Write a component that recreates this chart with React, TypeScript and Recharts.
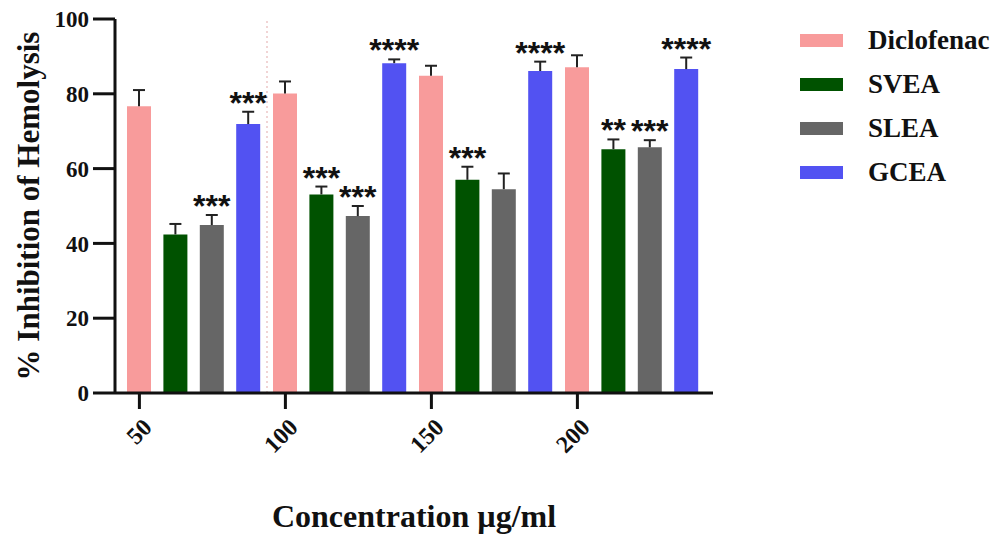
import React from "react";
import { BarChart, Bar, XAxis, YAxis, Legend, LabelList, ReferenceLine } from "recharts";

// concentrations (µg/ml)
const concentrations = ["50", "100", "150", "200"];

// % inhibition of hemolysis, mean and SD per group
const diclofenac = [76.7, 80.1, 84.8, 87.1];
const diclofenacErr = [4.3, 3.2, 2.7, 3.2];
const svea = [42.4, 53.1, 57.0, 65.2];
const sveaErr = [2.8, 2.1, 3.5, 2.6];
const slea = [44.9, 47.3, 54.5, 65.7];
const sleaErr = [2.7, 2.7, 4.2, 1.9];
const gcea = [71.9, 88.2, 86.1, 86.6];
const gceaErr = [3.3, 1.0, 2.5, 3.1];

// significance marks
const diclofenacSig = ["", "", "", ""];
const sveaSig = ["", "***", "***", "**"];
const sleaSig = ["***", "***", "", "***"];
const gceaSig = ["***", "****", "****", "****"];

const series = [
  { key: "Diclofenac", color: "#F89B9B", values: diclofenac, err: diclofenacErr, sig: diclofenacSig },
  { key: "SVEA", color: "#005200", values: svea, err: sveaErr, sig: sveaSig },
  { key: "SLEA", color: "#666666", values: slea, err: sleaErr, sig: sleaSig },
  { key: "GCEA", color: "#5252F2", values: gcea, err: gceaErr, sig: gceaSig },
];

const data = concentrations.map((c, i) => {
  const row: Record<string, any> = { conc: c };
  series.forEach((s) => {
    row[s.key] = s.values[i];
    row[s.key + "_err"] = s.err[i];
    row[s.key + "_sig"] = s.sig[i];
  });
  return row;
});

const serif = "'Liberation Serif', 'Times New Roman', serif";
const BAR = 24;
const GAP = 12.4;

// draws the upper SD whisker and the stars above each bar
const errorAndStars = (key: string) => (props: any) => {
  const vb = props.viewBox || props;
  const x = props.x ?? vb.x;
  const y = props.y ?? vb.y;
  const width = props.width ?? vb.width;
  const height = props.height ?? vb.height;
  const row = data[props.index];
  if (!row) return null;
  const v = row[key];
  const pxPerUnit = height / v;
  const top = y - row[key + "_err"] * pxPerUnit;
  const cx = x + width / 2;
  const sig = row[key + "_sig"];
  return (
    <g>
      <line x1={cx} x2={cx} y1={y} y2={top} stroke="#222" strokeWidth={2} />
      <line x1={cx - 6} x2={cx + 6} y1={top} y2={top} stroke="#222" strokeWidth={2} />
      {sig ? (
        <text x={cx} y={top + 2} textAnchor="middle" fontSize={32} fontWeight="bold"
          fontFamily="'Liberation Sans', Arial, sans-serif" fill="#111">
          {sig}
        </text>
      ) : null}
    </g>
  );
};

const LegendBox = () => (
  <div style={{ fontFamily: serif, fontWeight: "bold", fontSize: 27, color: "#111" }}>
    {series.map((s) => (
      <div key={s.key} style={{ display: "flex", alignItems: "center", height: 44 }}>
        <div style={{ width: 43, height: 13, background: s.color, marginRight: 25 }} />
        <span>{s.key}</span>
      </div>
    ))}
  </div>
);

const YTitle = (props: any) => {
  const vb = props.viewBox;
  const cx = 28;
  const cy = vb.y + vb.height / 2;
  return (
    <text x={cx} y={cy} transform={`rotate(-90 ${cx} ${cy})`} textAnchor="middle"
      dominantBaseline="central" fontFamily={serif} fontWeight="bold" fontSize={31} fill="#111">
      % Inhibition of Hemolysis
    </text>
  );
};

const XTitle = (props: any) => {
  const vb = props.viewBox;
  return (
    <text x={vb.x + vb.width / 2} y={527} textAnchor="middle" fontFamily={serif}
      fontWeight="bold" fontSize={32} fill="#111">
      Concentration µg/ml
    </text>
  );
};

// GraphPad puts each group's tick under its first bar
const XTick = (props: any) => {
  const { x, y, payload } = props;
  const tx = x - 1.5 * (BAR + GAP);
  return (
    <g>
      <rect x={tx - 1.5} y={y} width={3} height={16} fill="#111" />
      <text x={tx + 2} y={y + 24} transform={`rotate(-45 ${tx + 2} ${y + 24})`} textAnchor="end"
        dominantBaseline="hanging" fontFamily={serif} fontWeight="bold" fontSize={24} fill="#111">
        {payload.value}
      </text>
    </g>
  );
};

export default function App() {
  return (
    <div style={{ position: "absolute", left: 0, top: 0, background: "#fff" }}>
      <BarChart width={993} height={536} data={data} barSize={BAR} barGap={GAP}
        margin={{ top: 19, right: 280, left: 0, bottom: 0 }}>
        <XAxis dataKey="conc" padding={{ left: 6, right: 8 }} height={143} tickSize={0} tickMargin={0}
          tickLine={false} interval={0} axisLine={{ stroke: "#111", strokeWidth: 3 }}
          tick={<XTick />} label={{ content: XTitle }} />
        <YAxis domain={[0, 100]} ticks={[0, 20, 40, 60, 80, 100]} width={115} tickSize={22} tickMargin={4}
          axisLine={{ stroke: "#111", strokeWidth: 3 }} tickLine={{ stroke: "#111", strokeWidth: 3 }}
          tick={{ fontFamily: serif, fontWeight: "bold", fontSize: 23, fill: "#111" }}
          label={{ content: YTitle }} />
        <ReferenceLine x="100" position="start" stroke="#e3a9a9" strokeDasharray="2 3" strokeWidth={1} />
        <Legend layout="vertical" verticalAlign="middle" align="center" content={<LegendBox />}
          wrapperStyle={{ left: 800, top: 18, width: 193 }} />
        {series.map((s) => (
          <Bar key={s.key} dataKey={s.key} fill={s.color} isAnimationActive={false}>
            <LabelList dataKey={s.key} content={errorAndStars(s.key)} />
          </Bar>
        ))}
      </BarChart>
    </div>
  );
}
